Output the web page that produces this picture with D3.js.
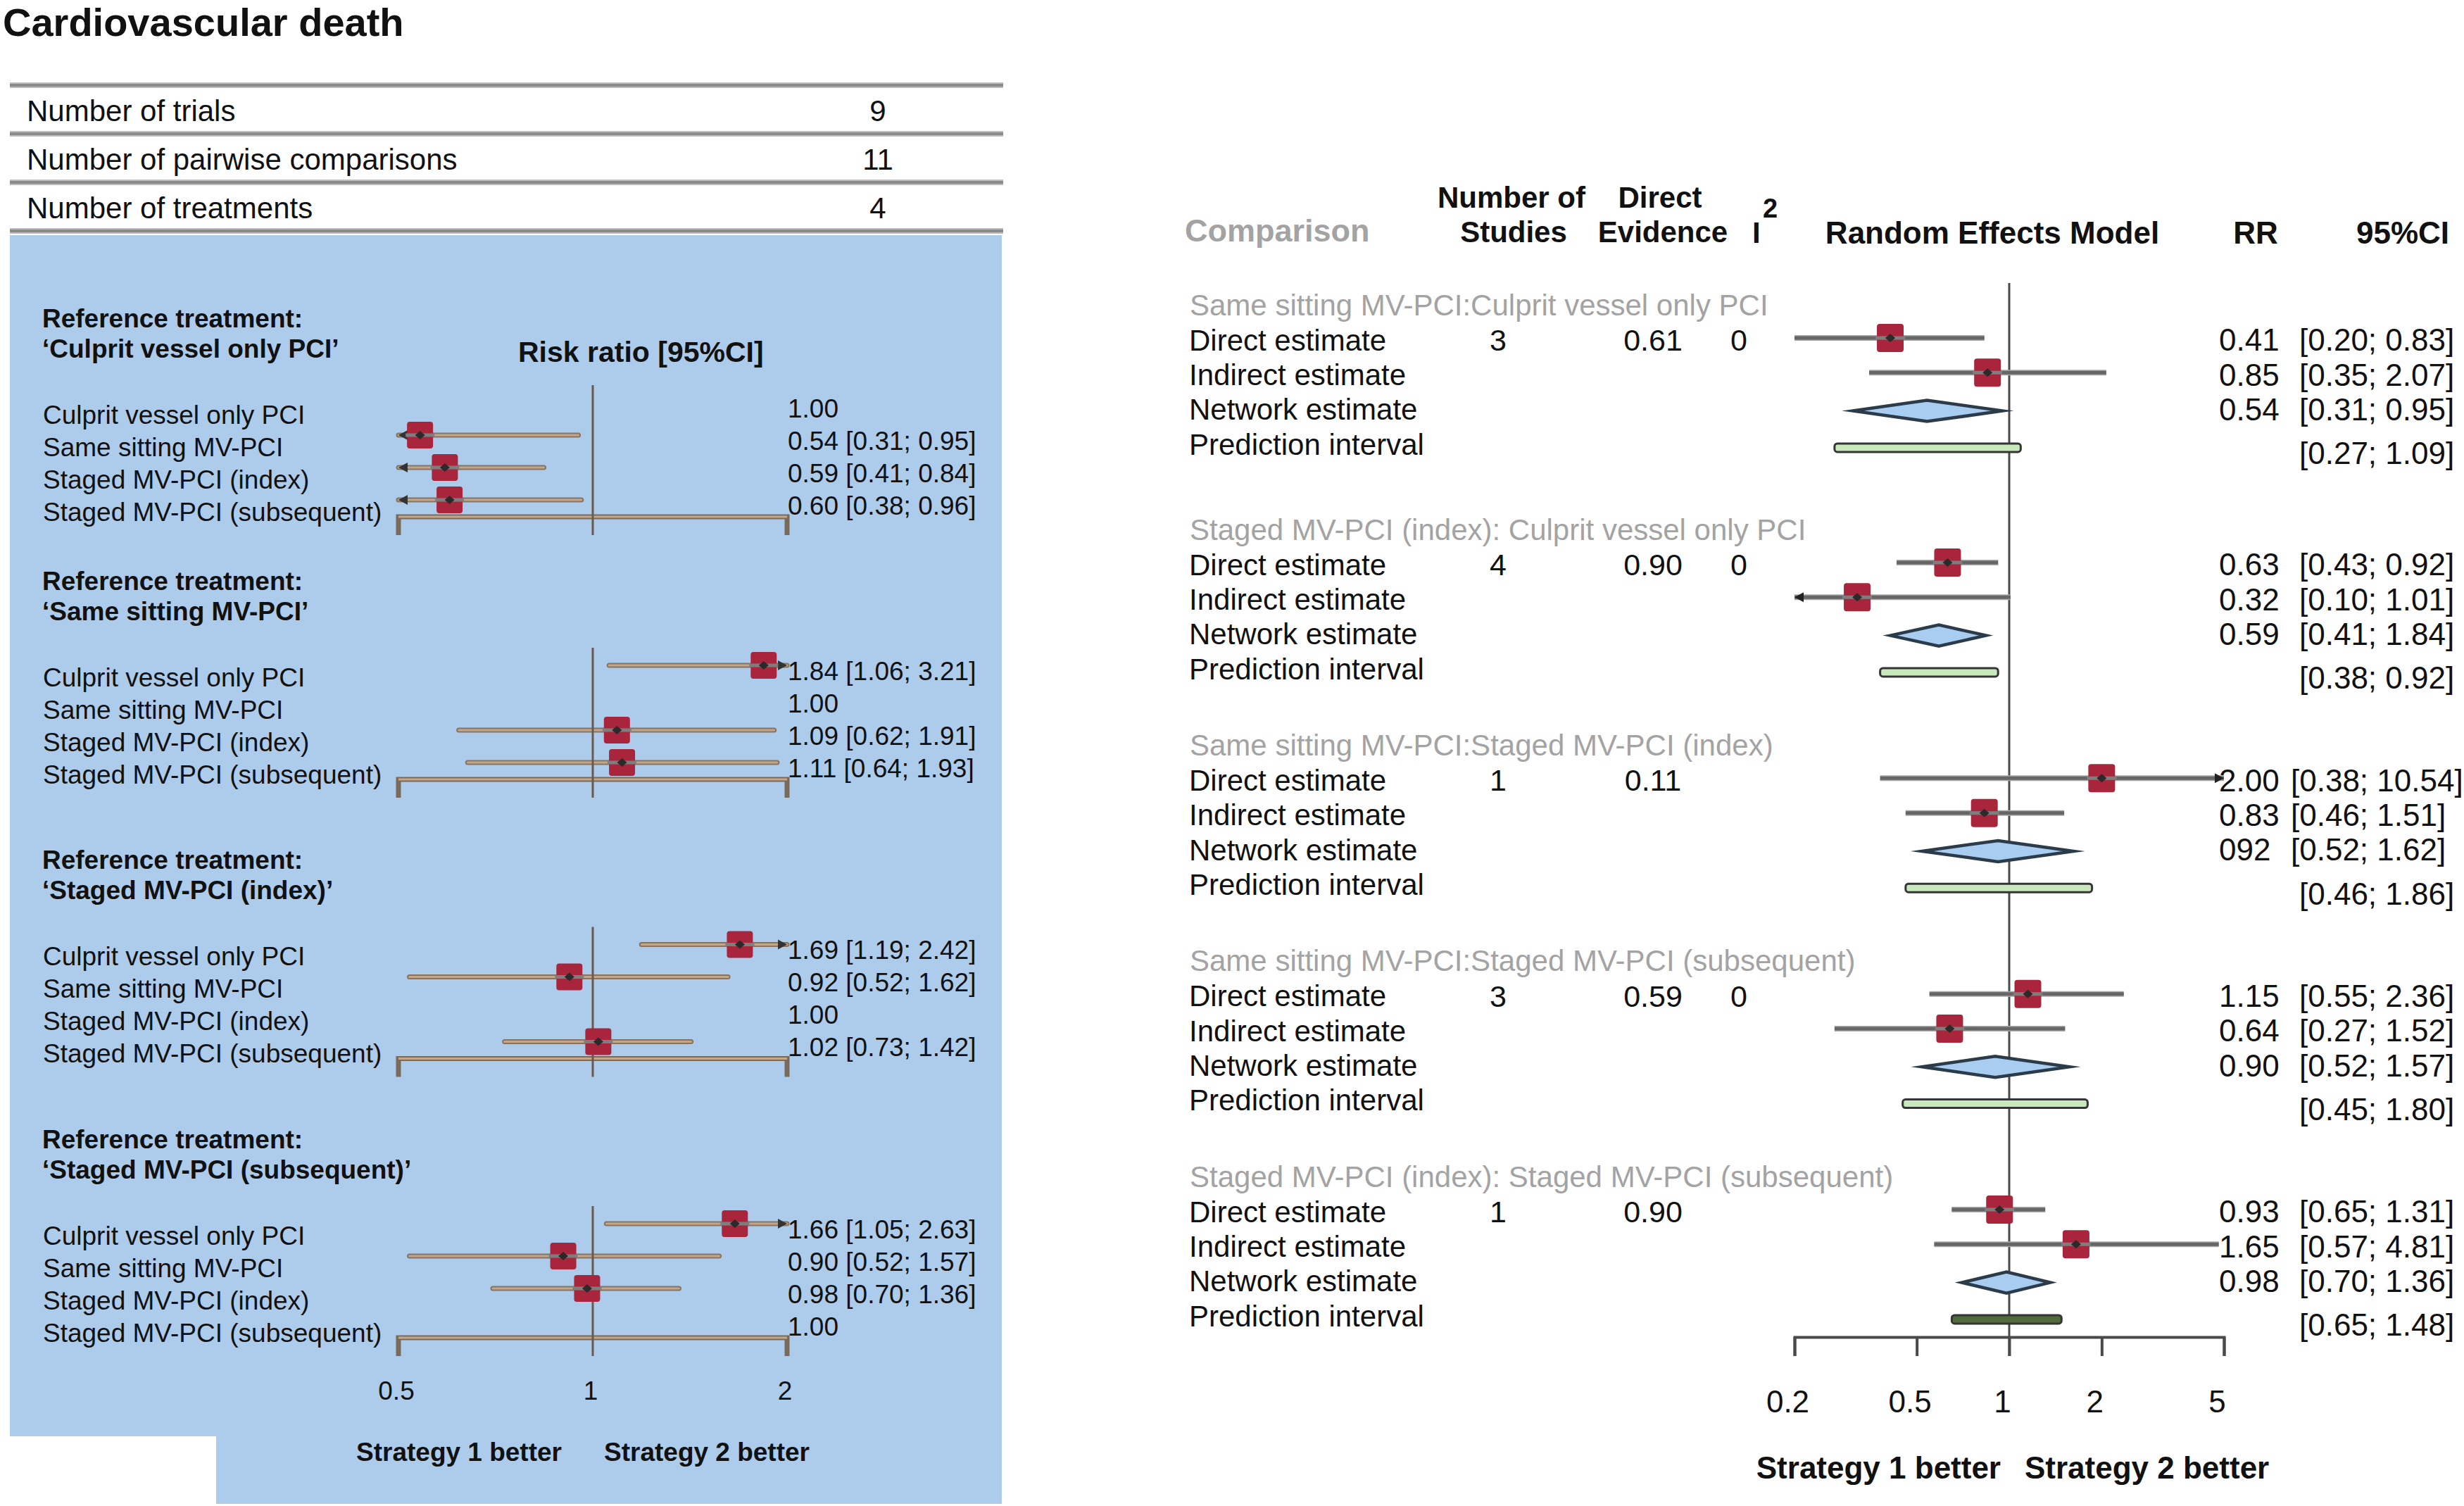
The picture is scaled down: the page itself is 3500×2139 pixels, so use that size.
<!DOCTYPE html>
<html><head><meta charset="utf-8">
<script src="https://cdn.jsdelivr.net/npm/d3@7"></script>
<style>
html,body{margin:0;padding:0;background:#fff;}
svg{display:block;}
text{font-family:"Liberation Sans",Arial,Helvetica,sans-serif;fill:#111;}
</style>
</head><body>
<svg id="chart" width="3500" height="2139"></svg>
<script>
// ---------------- DATA ----------------
const title = "Cardiovascular death";
const summaryLabels = ["Number of trials", "Number of pairwise comparisons", "Number of treatments"];
const summaryValues = ["9", "11", "4"];

const treatments = ["Culprit vessel only PCI", "Same sitting MV-PCI", "Staged MV-PCI (index)", "Staged MV-PCI (subsequent)"];
// rows: reference treatment; columns: treatment
const leftRR = [[1.00, 0.54, 0.59, 0.60], [1.84, 1.00, 1.09, 1.11], [1.69, 0.92, 1.00, 1.02], [1.66, 0.90, 0.98, 1.00]];
const leftLo = [[null, 0.31, 0.41, 0.38], [1.06, null, 0.62, 0.64], [1.19, 0.52, null, 0.73], [1.05, 0.52, 0.70, null]];
const leftHi = [[null, 0.95, 0.84, 0.96], [3.21, null, 1.91, 1.93], [2.42, 1.62, null, 1.42], [2.63, 1.57, 1.36, null]];
const leftTicks = [0.5, 1, 2];

const comparisons = ["Same sitting MV-PCI:Culprit vessel only PCI", "Staged MV-PCI (index): Culprit vessel only PCI",
  "Same sitting MV-PCI:Staged MV-PCI (index)", "Same sitting MV-PCI:Staged MV-PCI (subsequent)",
  "Staged MV-PCI (index): Staged MV-PCI (subsequent)"];
const estimateLabels = ["Direct estimate", "Indirect estimate", "Network estimate", "Prediction interval"];
const nStudies = ["3", "4", "1", "3", "1"];
const directEvidence = ["0.61", "0.90", "0.11", "0.59", "0.90"];
const iSquared = ["0", "0", "", "0", ""];
const directRR = [0.41, 0.63, 2.00, 1.15, 0.93];
const directLo = [0.20, 0.43, 0.38, 0.55, 0.65];
const directHi = [0.83, 0.92, 10.54, 2.36, 1.31];
const indirectRR = [0.85, 0.32, 0.83, 0.64, 1.65];
const indirectLo = [0.35, 0.10, 0.46, 0.27, 0.57];
const indirectHi = [2.07, 1.01, 1.51, 1.52, 4.81];
const networkRR = [0.54, 0.59, 0.92, 0.90, 0.98];
const networkLo = [0.31, 0.41, 0.52, 0.52, 0.70];
const networkHi = [0.95, 0.84, 1.62, 1.57, 1.36];
const predLo = [0.27, 0.38, 0.46, 0.45, 0.65];
const predHi = [1.09, 0.92, 1.86, 1.80, 1.48];
const rrLabels = [["0.41", "0.85", "0.54"], ["0.63", "0.32", "0.59"], ["2.00", "0.83", "092"], ["1.15", "0.64", "0.90"], ["0.93", "1.65", "0.98"]];
const ciLabels = [["[0.20; 0.83]", "[0.35; 2.07]", "[0.31; 0.95]", "[0.27; 1.09]"],
  ["[0.43; 0.92]", "[0.10; 1.01]", "[0.41; 1.84]", "[0.38; 0.92]"],
  ["[0.38; 10.54]", "[0.46; 1.51]", "[0.52; 1.62]", "[0.46; 1.86]"],
  ["[0.55; 2.36]", "[0.27; 1.52]", "[0.52; 1.57]", "[0.45; 1.80]"],
  ["[0.65; 1.31]", "[0.57; 4.81]", "[0.70; 1.36]", "[0.65; 1.48]"]];
const rightTicks = [0.2, 0.5, 1, 2, 5];

// ---------------- DRAWING ----------------
const svg = d3.select("#chart");
const fmt = d3.format(".2f");
const RED = "#a8253c";

function txt(g, x, y, s, size, opts = {}) {
  return g.append("text").attr("x", x).attr("y", y).attr("dy", "0.35em")
    .attr("font-size", size).attr("font-weight", opts.bold ? "bold" : "normal")
    .attr("text-anchor", opts.anchor || "start").style("fill", opts.fill || "#111").text(s);
}

svg.append("rect").attr("width", 3500).attr("height", 2139).attr("fill", "#fff");
svg.append("text").attr("x", 4).attr("y", 51).attr("font-size", 56).attr("font-weight", "bold").text(title);

// summary table
const tableY = d3.scaleLinear().domain([0, 3]).range([121, 328]);
d3.range(4).forEach(i => {
  svg.append("line").attr("x1", 14).attr("x2", 1425).attr("y1", tableY(i)).attr("y2", tableY(i))
    .attr("stroke", "#bdbdbd").attr("stroke-width", 8);
  svg.append("line").attr("x1", 14).attr("x2", 1425).attr("y1", tableY(i)).attr("y2", tableY(i))
    .attr("stroke", "#8a8a8a").attr("stroke-width", 4);
});
summaryLabels.forEach((s, i) => {
  const y = (tableY(i) + tableY(i + 1)) / 2 + 2;
  txt(svg, 38, y, s, 42);
  txt(svg, 1247, y, summaryValues[i], 42, { anchor: "middle" });
});

// blue panel
svg.append("path").attr("d", "M14,334H1423V2136H307V2040H14Z").attr("fill", "#adcbeb");

// left forest plots
const xL = d3.scaleLog().base(2).domain([0.5, 2]).range([566, 1118]);
const axisYL = d3.scaleLinear().domain([0, 1, 3]).range([734, 1107, 1900]);

function tanLine(g, x1, x2, y) {
  g.append("line").attr("x1", x1).attr("x2", x2).attr("y1", y).attr("y2", y)
    .attr("stroke", "#857463").attr("stroke-width", 7).attr("stroke-linecap", "round");
  g.append("line").attr("x1", x1).attr("x2", x2).attr("y1", y).attr("y2", y)
    .attr("stroke", "#c4a78b").attr("stroke-width", 3).attr("stroke-linecap", "round");
}
function arrow(g, x, y, dir, col) {
  g.append("path").attr("d", `M${x},${y}L${x - dir * 13},${y - 7}L${x - dir * 13},${y + 7}Z`).attr("fill", col);
}
function marker(g, x, y, w, h) {
  g.append("rect").attr("x", x - w / 2).attr("y", y - h / 2).attr("width", w).attr("height", h)
    .attr("rx", 4).attr("fill", RED);
  g.append("line").attr("x1", x - w / 2 - 2).attr("x2", x + w / 2 + 2).attr("y1", y).attr("y2", y)
    .attr("stroke", "#7e7e7e").attr("stroke-width", 5);
  g.append("path").attr("d", `M${x - 7},${y}L${x},${y - 6}L${x + 7},${y}L${x},${y + 6}Z`).attr("fill", "#2a2a2a");
}

treatments.forEach((ref, g) => {
  const A = axisYL(g);
  const grp = svg.append("g");
  txt(grp, 60, A - 282, "Reference treatment:", 37, { bold: true });
  txt(grp, 60, A - 239, "\u2018" + ref + "\u2019", 37, { bold: true });
  if (g === 0) txt(grp, 736, A - 234, "Risk ratio [95%CI]", 41, { bold: true });

  const rowY = j => A - 162 + 46 * j;
  treatments.forEach((t, j) => {
    const lo = leftLo[g][j], hi = leftHi[g][j];
    if (lo === null) return;
    const y = rowY(j);
    tanLine(grp, xL(Math.max(lo, 0.5)), xL(Math.min(hi, 2)), y);
    if (lo < 0.5) arrow(grp, xL(0.5), y, -1, "#333");
    if (hi > 2) arrow(grp, xL(2), y, 1, "#333");
  });
  grp.append("path").attr("d", `M${xL(0.5)},${A + 26}V${A}H${xL(2)}V${A + 26}`)
    .attr("fill", "none").attr("stroke", "#7a6a5a").attr("stroke-width", 7);
  grp.append("path").attr("d", `M${xL(0.5)},${A}H${xL(2)}`)
    .attr("fill", "none").attr("stroke", "#c4a78b").attr("stroke-width", 3);
  grp.append("line").attr("x1", xL(1)).attr("x2", xL(1)).attr("y1", A - 187).attr("y2", A + 26)
    .attr("stroke", "#6b5a4c").attr("stroke-width", 3);
  treatments.forEach((t, j) => {
    const y = rowY(j);
    txt(grp, 61, y + 17, t, 37);
    const rr = leftRR[g][j], lo = leftLo[g][j], hi = leftHi[g][j];
    const s = lo === null ? fmt(rr) : `${fmt(rr)} [${fmt(lo)}; ${fmt(hi)}]`;
    txt(grp, 1119, y + 8, s, 37);
    if (lo !== null) marker(grp, xL(rr), y, 37, 38);
  });
});
leftTicks.forEach(t => txt(svg, xL(t) - 3, 1975, String(t), 37, { anchor: "middle" }));
txt(svg, xL(1) - 44, 2062, "Strategy 1 better", 37, { bold: true, anchor: "end" });
txt(svg, xL(1) + 16, 2062, "Strategy 2 better", 37, { bold: true });

// ---------------- RIGHT PANEL ----------------
const xR = d3.scaleLog().domain([0.2, 5]).range([2549, 3159]);
const groupYR = d3.scaleLinear().domain([0, 1, 4]).range([433, 752, 1671]);
const rowYR = (g, j) => groupYR(g) + 50 + 49.3 * j;

const GRAY = "#a3a3a3";
txt(svg, 1683, 327, "Comparison", 45, { bold: true, fill: GRAY });
txt(svg, 2147, 280, "Number of", 42, { bold: true, anchor: "middle" });
txt(svg, 2150, 329, "Studies", 42, { bold: true, anchor: "middle" });
txt(svg, 2358, 280, "Direct", 42, { bold: true, anchor: "middle" });
txt(svg, 2362, 329, "Evidence", 42, { bold: true, anchor: "middle" });
txt(svg, 2489, 330, "I", 42, { bold: true });
txt(svg, 2504, 296, "2", 38, { bold: true });
txt(svg, 2830, 331, "Random Effects Model", 44, { bold: true, anchor: "middle" });
txt(svg, 3204, 331, "RR", 44, { bold: true, anchor: "middle" });
txt(svg, 3413, 331, "95%CI", 44, { bold: true, anchor: "middle" });

svg.append("line").attr("x1", xR(1)).attr("x2", xR(1)).attr("y1", 402).attr("y2", 1926)
  .attr("stroke", "#4a4a4a").attr("stroke-width", 3);

const axR = d3.axisBottom(xR).tickValues(rightTicks).tickSize(27).tickSizeOuter(27).tickPadding(49)
  .tickFormat(d => String(d));
const axG = svg.append("g").attr("transform", "translate(0,1899)").call(axR);
axG.select(".domain").attr("stroke", "#4a4a4a").attr("stroke-width", 4);
axG.selectAll(".tick line").attr("stroke", "#4a4a4a").attr("stroke-width", 4);
axG.selectAll(".tick text").attr("font-size", 44).attr("dx", -10)
  .attr("font-family", "'Liberation Sans',Arial,sans-serif").style("fill", "#111");

txt(svg, xR(1) - 12, 2085, "Strategy 1 better", 44, { bold: true, anchor: "end" });
txt(svg, xR(1) + 22, 2085, "Strategy 2 better", 44, { bold: true });

function grayLine(g, x1, x2, y) {
  g.append("line").attr("x1", x1).attr("x2", x2).attr("y1", y).attr("y2", y)
    .attr("stroke", "#a8a8a8").attr("stroke-width", 8);
  g.append("line").attr("x1", x1).attr("x2", x2).attr("y1", y).attr("y2", y)
    .attr("stroke", "#666").attr("stroke-width", 5);
}

comparisons.forEach((c, g) => {
  const grp = svg.append("g");
  txt(grp, 1690, groupYR(g), c, 42, { fill: GRAY });
  estimateLabels.forEach((l, j) => txt(grp, 1689, rowYR(g, j), l, 42));
  const yD = rowYR(g, 0);
  txt(grp, 2128, yD, nStudies[g], 43, { anchor: "middle" });
  txt(grp, 2348, yD, directEvidence[g], 43, { anchor: "middle" });
  txt(grp, 2470, yD, iSquared[g], 43, { anchor: "middle" });

  rrLabels[g].forEach((s, j) => txt(grp, 3152, rowYR(g, j), s, 44));
  ciLabels[g].forEach((s, j) => txt(grp, g === 2 && j < 3 ? 3254 : 3266, rowYR(g, j) + (j === 3 ? 13 : 0), s, 44));

  const ests = [[directRR[g], directLo[g], directHi[g]], [indirectRR[g], indirectLo[g], indirectHi[g]]];
  ests.forEach(([rr, lo, hi], j) => {
    const y = rowYR(g, j) - 3;
    grayLine(grp, xR(Math.max(lo, 0.2)), xR(Math.min(hi, 5)), y);
    if (lo < 0.2) arrow(grp, xR(0.2), y, -1, "#222");
    if (hi > 5) arrow(grp, xR(5), y, 1, "#222");
    marker(grp, xR(rr), y, 38, 40);
  });
  const yN = rowYR(g, 2) + 2;
  const dpts = [[xR(networkLo[g]), yN], [xR(networkRR[g]), yN - 15], [xR(networkHi[g]), yN], [xR(networkRR[g]), yN + 15]];
  grp.append("path").attr("d", "M" + dpts.map(p => p.join(",")).join("L") + "Z")
    .attr("fill", "#a9cdf0").attr("stroke", "#2c3b4a").attr("stroke-width", 4.5)
    .attr("stroke-linejoin", "miter").attr("stroke-miterlimit", 20);
  const yP = rowYR(g, 3) + 5;
  grp.append("rect").attr("x", xR(predLo[g])).attr("y", yP - 6).attr("width", xR(predHi[g]) - xR(predLo[g]))
    .attr("height", 12).attr("rx", 4)
    .attr("fill", g === 4 ? "#506c3a" : "#c9e8bc").attr("stroke", "#353535").attr("stroke-width", 3);
});
</script>
</body></html>
